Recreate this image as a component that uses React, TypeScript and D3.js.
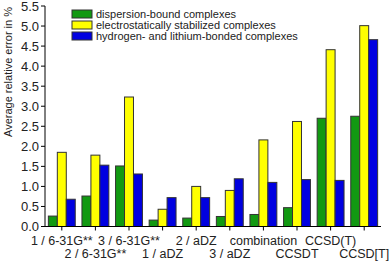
import React from "react";
import * as d3 from "d3";

// categories (x-axis labels), alternating rows
const categories = [
  "1 / 6-31G**",
  "2 / 6-31G**",
  "3 / 6-31G**",
  "1 / aDZ",
  "2 / aDZ",
  "3 / aDZ",
  "combination",
  "CCSDT",
  "CCSD(T)",
  "CCSD[T]",
];

const seriesNames = [
  "dispersion-bound complexes",
  "electrostatically stabilized complexes",
  "hydrogen- and lithium-bonded complexes",
];

const dispersion = [0.26, 0.76, 1.51, 0.16, 0.21, 0.25, 0.3, 0.47, 2.7, 2.75];
const electrostatic = [1.85, 1.78, 3.23, 0.43, 1.0, 0.9, 2.16, 2.62, 4.41, 5.01];
const hydrogen = [0.68, 1.53, 1.31, 0.72, 0.72, 1.19, 1.1, 1.17, 1.15, 4.66];

const yTicks = [0, 0.5, 1, 1.5, 2, 2.5, 3, 3.5, 4, 4.5, 5, 5.5];

const colors = ["#129912", "#ffff00", "#0000e0"];

const App = () => {
  const width = 392;
  const height = 261;
  const margin = { top: 6, left: 45, right: 11, bottom: 35 };
  const baseY = 226.5;

  const series = [dispersion, electrostatic, hydrogen];

  // scales
  const x = d3
    .scaleBand<string>()
    .domain(categories)
    .range([margin.left, width - margin.right])
    .paddingInner(0.2)
    .paddingOuter(0.1);
  const inner = d3
    .scaleBand<number>()
    .domain([0, 1, 2])
    .range([0, x.bandwidth()]);
  const y = d3.scaleLinear().domain([0, 5.5]).range([baseY, margin.top]);

  const font = "'Liberation Sans', Arial, sans-serif";

  return (
    <svg
      width={width}
      height={height}
      style={{ position: "absolute", left: 0, top: 0, background: "#fff" }}
    >
      {/* bars */}
      {categories.map((c, i) => (
        <g key={c}>
          {series.map((s, j) => (
            <rect
              key={j}
              x={(x(c) as number) + (inner(j) as number)}
              y={y(s[i])}
              width={inner.bandwidth()}
              height={baseY - y(s[i])}
              fill={colors[j]}
              stroke="#333"
              strokeWidth={1}
            />
          ))}
        </g>
      ))}

      {/* y axis */}
      <line
        x1={margin.left}
        x2={margin.left}
        y1={y(5.5)}
        y2={baseY}
        stroke="#000"
        strokeWidth={1}
      />
      {yTicks.map((t) => (
        <g key={t}>
          <line
            x1={margin.left - 4}
            x2={margin.left}
            y1={y(t)}
            y2={y(t)}
            stroke="#000"
          />
          <text
            x={margin.left - 6}
            y={y(t)}
            dy="0.35em"
            textAnchor="end"
            fontFamily={font}
            fontSize={13}
            fill="#222"
          >
            {t.toFixed(1)}
          </text>
        </g>
      ))}
      <text
        transform={`translate(12, 137) rotate(-90)`}
        textAnchor="start"
        fontFamily={font}
        fontSize={11}
        fill="#222"
      >
        Average relative error in %
      </text>

      {/* x axis */}
      <line
        x1={margin.left}
        x2={width - margin.right}
        y1={baseY}
        y2={baseY}
        stroke="#000"
      />
      {categories.map((c, i) => {
        const cx = (x(c) as number) + x.bandwidth() / 2;
        return (
          <g key={c}>
            <line x1={cx} x2={cx} y1={baseY} y2={baseY + 4} stroke="#000" />
            <text
              x={cx}
              y={i % 2 === 0 ? 244.5 : 257.5}
              textAnchor="middle"
              fontFamily={font}
              fontSize={12.5}
              fill="#222"
            >
              {c}
            </text>
          </g>
        );
      })}

      {/* legend */}
      {seriesNames.map((n, i) => (
        <g key={n} transform={`translate(72, ${10 + i * 11})`}>
          <rect
            width={20}
            height={8}
            fill={colors[i]}
            stroke="#333"
            strokeWidth={1}
          />
          <text
            x={24}
            y={4}
            dy="0.35em"
            fontFamily={font}
            fontSize={11}
            fill="#222"
          >
            {n}
          </text>
        </g>
      ))}
    </svg>
  );
};

export default App;
